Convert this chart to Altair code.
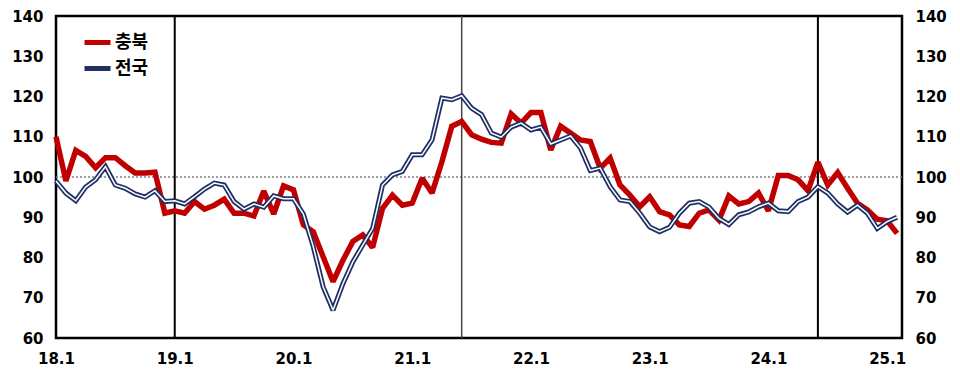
import json
import altair as alt
import pandas as pd

# ---- data -------------------------------------------------------------
months_per_year = 12
x_tick_labels = ["18.1", "19.1", "20.1", "21.1", "22.1", "23.1", "24.1", "25.1"]

chungbuk = [
    110.0, 99.0, 106.6, 105.1, 102.3, 104.8, 104.8, 102.8, 101.0, 101.0, 101.2, 91.0,
    91.6, 91.0, 93.9, 92.0, 93.0, 94.5, 91.0, 91.0, 90.3, 96.5, 90.8, 97.8,
    96.8, 88.1, 86.4, 80.2, 74.0, 79.3, 84.0, 85.6, 82.5, 92.2, 95.5, 93.0,
    93.5, 99.7, 96.0, 103.8, 112.6, 113.8, 110.5, 109.4, 108.6, 108.4, 115.7, 113.4,
    116.0, 116.0, 106.7, 112.6, 110.9, 109.2, 108.8, 102.2, 104.7, 98.0, 95.5, 92.6,
    95.1, 91.4, 90.6, 88.1, 87.7, 91.0, 91.8, 89.3, 95.3, 93.3, 93.9, 96.0,
    91.6, 100.4, 100.4, 99.3, 96.6, 103.7, 98.0, 101.1, 97.2, 93.5, 91.8, 89.5,
    89.1, 86.0,
]
national = [
    99.0, 96.0, 94.1, 97.5, 99.3, 102.6, 98.0, 97.2, 95.8, 95.0, 96.6, 93.9,
    94.1, 93.3, 95.1, 97.0, 98.5, 98.0, 93.9, 92.0, 93.3, 92.5, 95.3, 94.6,
    94.6, 90.8, 82.7, 72.7, 66.9, 73.5, 78.9, 83.1, 87.2, 98.0, 100.5, 101.4,
    105.5, 105.5, 109.2, 119.6, 119.2, 120.2, 117.1, 115.5, 110.9, 109.9, 112.4, 113.4,
    111.7, 112.4, 108.2, 109.2, 110.2, 107.2, 101.6, 102.2, 97.6, 94.3, 93.9, 91.0,
    87.6, 86.4, 87.5, 91.0, 93.5, 93.9, 92.5, 89.7, 88.2, 90.6, 91.3, 92.6,
    93.5, 91.6, 91.4, 93.9, 95.0, 97.6, 96.0, 93.3, 91.3, 93.0, 91.0, 87.2,
    88.9, 90.0,
]
series_names = ["충북", "전국"]
black_vlines = [12, 77]   # month index: 19.1, 24.6
gray_vlines = [41]        # month index: 21.6
ref_level = [100]

n = len(chungbuk)
df = pd.DataFrame({
    "t": list(range(n)) * 2,
    "value": chungbuk + national,
    "series": [series_names[0]] * n + [series_names[1]] * n,
})

# ---- styling ------------------------------------------------------------
RED = "#C00000"
NAVY = "#1F3064"
NUM_FONT = "DejaVu Sans"
KR_FONT = "Noto Sans CJK KR"
Y_DOMAIN = [60, 140]
X_DOMAIN = [0, 85.5]

label_expr = "%s[round(datum.value / 12)]" % json.dumps(x_tick_labels)

x_axis = alt.Axis(
    values=[i * months_per_year for i in range(len(x_tick_labels))],
    labelExpr=label_expr, title=None, grid=False, domain=False,
    ticks=False, labelPadding=13, labelFontSize=15, labelFont=NUM_FONT,
    labelFontWeight="bold", labelColor="black", labelFlush=False,
)
x_enc = alt.X("t:Q", scale=alt.Scale(domain=X_DOMAIN, nice=False, zero=False), axis=x_axis)

y_scale = alt.Scale(domain=Y_DOMAIN, nice=False, zero=False)


def y_axis(orient):
    return alt.Axis(
        orient=orient, values=list(range(60, 141, 10)), title=None, grid=False,
        domain=False, ticks=False, labelPadding=13, labelFontSize=15,
        labelFont=NUM_FONT, labelFontWeight="bold", labelColor="black",
    )


color_scale = alt.Scale(domain=series_names, range=[RED, NAVY])
legend = alt.Legend(
    title=None, orient="none", legendX=26, legendY=11, symbolType="stroke",
    symbolSize=676, symbolStrokeWidth=5, labelFont=KR_FONT, labelFontSize=18,
    labelFontWeight="bold", labelColor="black", padding=0, rowPadding=-1,
    labelOffset=2,
)

base = alt.Chart(df)

red_line = base.transform_filter(alt.datum.series == series_names[0]).mark_line(
    strokeWidth=5.5, strokeJoin="miter", strokeMiterLimit=2
).encode(
    x=x_enc,
    y=alt.Y("value:Q", scale=y_scale, axis=y_axis("left")),
    color=alt.Color("series:N", scale=color_scale, legend=legend, sort=series_names),
)

navy_line = base.transform_filter(alt.datum.series == series_names[1]).mark_line(
    strokeWidth=5, strokeJoin="miter", strokeMiterLimit=2
).encode(
    x=x_enc,
    y=alt.Y("value:Q", scale=y_scale, axis=None),
    color=alt.Color("series:N", scale=color_scale, legend=legend, sort=series_names),
)

white_line = base.transform_filter(alt.datum.series == series_names[1]).mark_line(
    strokeWidth=1.5, color="white", strokeJoin="miter", strokeMiterLimit=2
).encode(
    x=x_enc,
    y=alt.Y("value:Q", scale=y_scale, axis=y_axis("right")),
)

ref_rule = alt.Chart(pd.DataFrame({"y": ref_level})).mark_rule(
    color="#7f7f7f", strokeWidth=1.5, strokeDash=[2, 2]
).encode(y=alt.Y("y:Q", scale=y_scale, axis=None))

black_rules = alt.Chart(pd.DataFrame({"t": black_vlines})).mark_rule(
    color="black", strokeWidth=2
).encode(x=x_enc)

gray_rules = alt.Chart(pd.DataFrame({"t": gray_vlines})).mark_rule(
    color="#444444", strokeWidth=1.5
).encode(x=x_enc)

chart = (
    alt.layer(ref_rule, black_rules, gray_rules, red_line, navy_line, white_line)
    .resolve_scale(y="independent")
    .properties(
        width=846, height=322,
        padding={"left": 56, "top": 16, "right": 58, "bottom": 43},
        autosize=alt.AutoSizeParams(type="none"),
        background="white",
    )
    .configure_view(stroke="black", strokeWidth=2.5)
)

chart.save("out.html", embed_options={"renderer": "svg", "actions": False})
